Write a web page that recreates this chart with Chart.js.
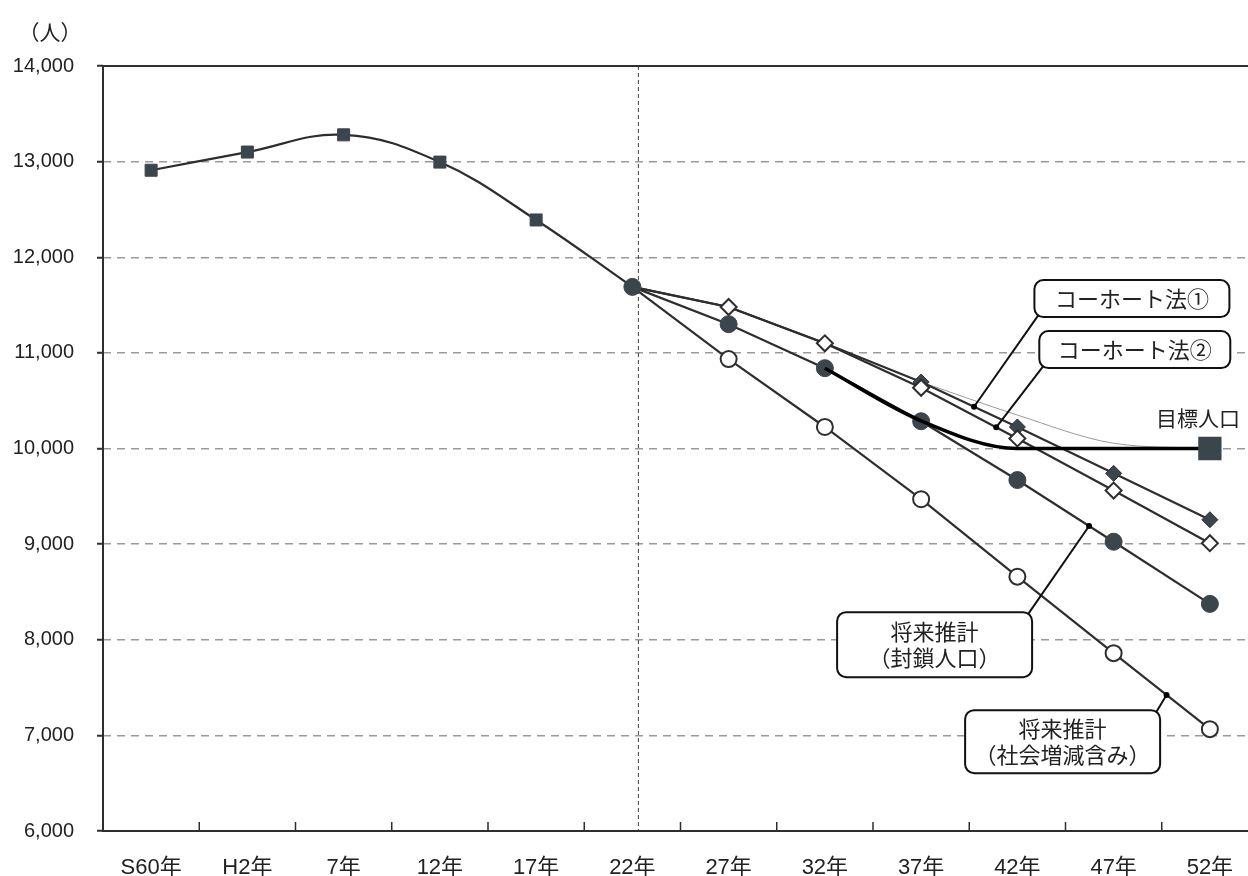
<!DOCTYPE html>
<html lang="ja">
<head>
<meta charset="utf-8">
<title>人口推計</title>
<script src="https://cdn.jsdelivr.net/npm/chart.js@4.4.1/dist/chart.umd.min.js"></script>
<style>
  html, body { margin: 0; padding: 0; background: #fff; overflow: hidden; }
  #wrap { position: relative; width: 1248px; height: 876px; }
</style>
</head>
<body>
<div id="wrap"><canvas id="popChart"></canvas></div>
<script>
// --- data ---
const years = ['S60年', 'H2年', '7年', '12年', '17年', '22年', '27年', '32年', '37年', '42年', '47年', '52年'];
const actual        = [12910, 13100, 13280, 12995, 12390, 11690, null, null, null, null, null, null];
const cohort1       = [null, null, null, null, null, 11690, 11480, 11100, 10695, 10225, 9740, 9255];
const cohort2       = [null, null, null, null, null, 11690, 11480, 11100, 10635, 10105, 9560, 9010];
const closedPop     = [null, null, null, null, null, 11690, 11300, 10840, 10285, 9670, 9025, 8375];
const withMigration = [null, null, null, null, null, 11690, 10935, 10225, 9470, 8660, 7860, 7065];
const targetPop     = [null, null, null, null, null, null, null, 10840, 10290, 10000, 10000, 10000];
const cohortGuide   = [null, null, null, null, null, null, null, null, 10695, 10350, 10055, 10000];
const yTicks = [6000, 7000, 8000, 9000, 10000, 11000, 12000, 13000, 14000];

const JP = "'Liberation Sans', 'Noto Sans CJK JP', sans-serif";
const CJK = "'Noto Sans CJK JP', sans-serif";
const DARK = '#3b464c';
const LINE = '#2e2e2e';

// callouts: box centre in data units, leader dot on a dataset segment
const callouts = [
    { lines: ['コーホート法①'], at: [10.19, 11568], w: 195, h: 37, corner: 'bl', ds: 1, seg: 8, t: 0.55 },
    { lines: ['コーホート法②'], at: [10.22, 11034], w: 191, h: 37, corner: 'bl', ds: 2, seg: 8, t: 0.78 },
    { lines: ['将来推計', '（封鎖人口）'], at: [8.14, 7949], w: 195, h: 65, corner: 'tr', ds: 3, seg: 9, t: 0.745 },
    { lines: ['将来推計', '（社会増減含み）'], at: [9.47, 6934], w: 195, h: 63, corner: 'tr', ds: 4, seg: 10, t: 0.55 }
];

function roundRect(ctx, x, y, w, h, r) {
    ctx.beginPath();
    ctx.moveTo(x + r, y);
    ctx.arcTo(x + w, y, x + w, y + h, r);
    ctx.arcTo(x + w, y + h, x, y + h, r);
    ctx.arcTo(x, y + h, x, y, r);
    ctx.arcTo(x, y, x + w, y, r);
    ctx.closePath();
}

// the scanned chart is cut off on the right: let the plot run 10px past the canvas edge
const overflowPlugin = {
    id: 'overflowRight',
    afterLayout(chart) {
        const a = chart.chartArea;
        const ext = chart.width + 10 - a.right;
        a.right += ext;
        a.width += ext;
        const x = chart.scales.x;
        x.right += ext;
        x.width += ext;
        x.configure();
    }
};

const framePlugin = {
    id: 'frame',
    beforeDatasetsDraw(chart) {
        const { ctx, chartArea: a, scales: { x } } = chart;
        ctx.save();
        // vertical dashed line at 22年
        ctx.strokeStyle = '#444';
        ctx.lineWidth = 1;
        ctx.setLineDash([4, 3]);
        const vx = x.getPixelForValue(5) + 6;
        ctx.beginPath();
        ctx.moveTo(vx, a.top);
        ctx.lineTo(vx, a.bottom);
        ctx.stroke();
        ctx.setLineDash([]);
        // frame
        ctx.strokeStyle = LINE;
        ctx.lineWidth = 2;
        ctx.strokeRect(a.left, a.top, a.right - a.left, a.bottom - a.top);
        // inner tick marks between categories
        ctx.lineWidth = 1.5;
        for (let i = 0; i < years.length - 1; i++) {
            const tx = x.getPixelForValue(i + 0.5);
            ctx.beginPath();
            ctx.moveTo(tx, a.bottom);
            ctx.lineTo(tx, a.bottom - 9);
            ctx.stroke();
        }
        // unit label
        ctx.fillStyle = '#222';
        ctx.font = '21px ' + CJK;
        ctx.textAlign = 'center';
        ctx.textBaseline = 'middle';
        ctx.fillText('（人）', a.left - 53, a.top - 34);
        ctx.restore();
    },
    afterDatasetsDraw(chart) {
        const { ctx, scales: { x, y } } = chart;
        ctx.save();
        callouts.forEach(c => {
            const cx = x.getPixelForValue(c.at[0]);
            const cy = y.getPixelForValue(c.at[1]);
            const bx = cx - c.w / 2, by = cy - c.h / 2;
            const pts = chart.getDatasetMeta(c.ds).data;
            const p0 = pts[c.seg], p1 = pts[c.seg + 1];
            const dx = p0.x + (p1.x - p0.x) * c.t;
            const dy = p0.y + (p1.y - p0.y) * c.t;
            const sx = c.corner === 'bl' ? bx + 4 : bx + c.w - 4;
            const sy = c.corner === 'bl' ? by + c.h - 2 : by + 2;
            ctx.strokeStyle = '#111';
            ctx.lineWidth = 2;
            ctx.beginPath();
            ctx.moveTo(sx, sy);
            ctx.lineTo(dx, dy);
            ctx.stroke();
            ctx.fillStyle = '#000';
            ctx.beginPath();
            ctx.arc(dx, dy, 3, 0, Math.PI * 2);
            ctx.fill();
            roundRect(ctx, bx, by, c.w, c.h, 9);
            ctx.fillStyle = '#fff';
            ctx.fill();
            ctx.stroke();
            ctx.fillStyle = '#222';
            ctx.font = '22px ' + CJK;
            ctx.textAlign = 'center';
            ctx.textBaseline = 'middle';
            const lh = 26;
            c.lines.forEach((s, i) => {
                ctx.fillText(s, cx, cy + (i - (c.lines.length - 1) / 2) * lh);
            });
        });
        // target label
        ctx.fillStyle = '#222';
        ctx.font = '21px ' + CJK;
        ctx.textAlign = 'center';
        ctx.textBaseline = 'middle';
        ctx.fillText('目標人口', x.getPixelForValue(11) - 12, y.getPixelForValue(10320));
        ctx.restore();
    }
};

const ctx = document.getElementById('popChart').getContext('2d');

new Chart(ctx, {
    type: 'line',
    data: {
        labels: years,
        datasets: [
            {
                label: '実績',
                data: actual,
                borderColor: LINE,
                borderWidth: 2.2,
                tension: 0.4,
                pointStyle: 'rect',
                pointRadius: c => c.dataIndex === 5 ? 0 : 8.5,
                pointBackgroundColor: DARK,
                pointBorderColor: DARK,
                pointBorderWidth: 1,
                order: 5
            },
            {
                label: 'コーホート法①',
                data: cohort1,
                borderColor: LINE,
                borderWidth: 2.2,
                tension: 0,
                pointStyle: 'rectRot',
                pointRadius: c => c.dataIndex === 5 ? 0 : 8,
                pointBackgroundColor: DARK,
                pointBorderColor: LINE,
                pointBorderWidth: 1,
                order: 4
            },
            {
                label: 'コーホート法②',
                data: cohort2,
                borderColor: LINE,
                borderWidth: 2.2,
                tension: 0,
                pointStyle: 'rectRot',
                pointRadius: c => c.dataIndex === 5 ? 0 : 8,
                pointBackgroundColor: '#fff',
                pointBorderColor: LINE,
                pointBorderWidth: 2,
                order: 3
            },
            {
                label: '将来推計（封鎖人口）',
                data: closedPop,
                borderColor: LINE,
                borderWidth: 2.2,
                tension: 0,
                pointStyle: 'circle',
                pointRadius: 8.5,
                pointBackgroundColor: DARK,
                pointBorderColor: DARK,
                pointBorderWidth: 1,
                order: 2
            },
            {
                label: '将来推計（社会増減含み）',
                data: withMigration,
                borderColor: LINE,
                borderWidth: 2.2,
                tension: 0,
                pointStyle: 'circle',
                pointRadius: c => c.dataIndex === 5 ? 0 : 8,
                pointBackgroundColor: '#fff',
                pointBorderColor: LINE,
                pointBorderWidth: 2,
                order: 6
            },
            {
                label: '目標人口補助線',
                data: cohortGuide,
                borderColor: '#9a9a9a',
                borderWidth: 1,
                cubicInterpolationMode: 'monotone',
                pointRadius: 0,
                order: 7
            },
            {
                label: '目標人口',
                data: targetPop,
                borderColor: '#000',
                borderWidth: 3.5,
                cubicInterpolationMode: 'monotone',
                pointStyle: 'rect',
                pointRadius: c => c.dataIndex === 11 ? 14 : 0,
                pointBackgroundColor: DARK,
                pointBorderColor: DARK,
                order: 1
            }
        ]
    },
    options: {
        responsive: true,
        maintainAspectRatio: false,
        animation: false,
        layout: { padding: { top: 66, right: 0, bottom: 0, left: 0 } },
        plugins: {
            legend: { display: false },
            tooltip: { enabled: false }
        },
        scales: {
            x: {
                offset: true,
                afterFit: s => { s.height = 45; },
                grid: { display: false },
                border: { display: false },
                ticks: {
                    color: '#222',
                    padding: 16,
                    maxRotation: 0,
                    autoSkip: false,
                    font: { family: JP, size: 22 }
                }
            },
            y: {
                min: 6000,
                max: 14000,
                afterFit: s => { s.width = 103; },
                afterBuildTicks: s => { s.ticks = yTicks.map(v => ({ value: v })); },
                grid: {
                    color: c => (c.tick && (c.tick.value === 6000 || c.tick.value === 14000)) ? 'transparent' : '#9a9a9a',
                    lineWidth: 1.5,
                    drawTicks: true,
                    tickLength: 6,
                    tickColor: LINE,
                    tickBorderDash: [],
                    tickWidth: 2
                },
                border: { display: false, dash: [8, 6] },
                ticks: {
                    color: '#222',
                    padding: 23,
                    font: { family: JP, size: 20 },
                    callback: v => v.toLocaleString('en-US')
                }
            }
        }
    },
    plugins: [overflowPlugin, framePlugin]
});
</script>
</body>
</html>
